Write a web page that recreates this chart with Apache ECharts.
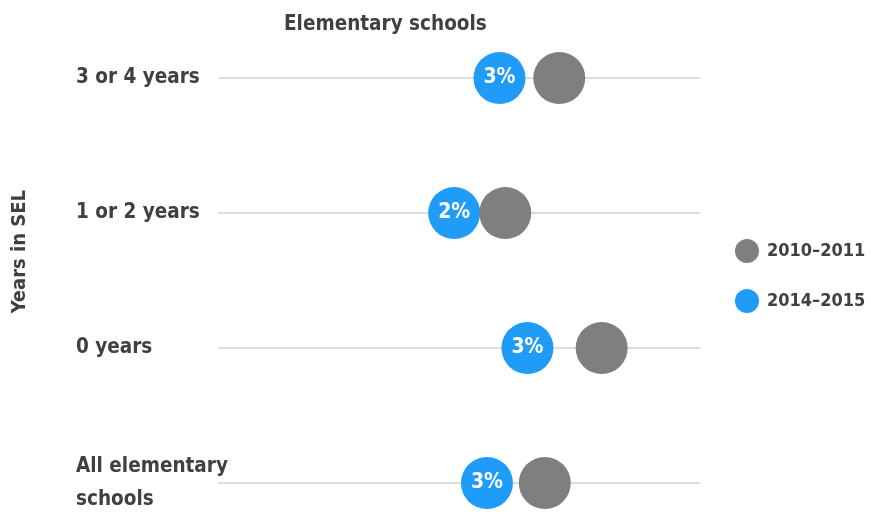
<!DOCTYPE html>
<html>
<head>
<meta charset="utf-8">
<script src="https://cdn.jsdelivr.net/npm/echarts@6/dist/echarts.min.js"></script>
<style>
  html, body { margin: 0; padding: 0; background: #fff; }
  #chart { width: 871px; height: 516px; }
</style>
</head>
<body>
<div id="chart"></div>
<script>
// Suspension rates by years in SEL, elementary schools (percent)
const categories = ['3 or 4 years', '1 or 2 years', '0 years', 'All elementary\nschools'];
const seriesNames = ['2010–2011', '2014–2015'];
const rate2010 = [3.54, 2.98, 3.98, 3.39];
const rate2014 = [2.92, 2.45, 3.21, 2.79];

const FONT = '"DejaVu Sans Condensed", "Open Sans", sans-serif';
const TEXT = '#404040';
const GREY = '#7f7f7f';
const BLUE = '#1f9cf7';

const toPoints = vals => vals.map((v, i) => [v, categories[i]]);

const chart = echarts.init(document.getElementById('chart'));
chart.setOption({
  animation: false,
  textStyle: { fontFamily: FONT },
  title: {
    text: 'Elementary schools',
    left: 279,
    top: 9,
    textStyle: { fontFamily: FONT, fontSize: 20.5, fontWeight: 'bold', color: TEXT }
  },
  legend: {
    orient: 'vertical',
    left: 730,
    top: 234,
    itemGap: 26,
    itemWidth: 24,
    itemHeight: 24,
    icon: 'circle',
    data: seriesNames,
    textStyle: { fontFamily: FONT, fontSize: 18, fontWeight: 'bold', color: TEXT, padding: [0, 0, 0, 3] }
  },
  graphic: [{
    type: 'text',
    left: 10,
    top: 190,
    rotation: Math.PI / 2,
    style: { text: 'Years in SEL', font: 'bold 20px ' + FONT, fill: TEXT }
  }],
  grid: { left: 218, right: 171, top: 78, bottom: 32 },
  xAxis: { type: 'value', min: 0, max: 5, show: false },
  yAxis: {
    type: 'category',
    data: categories,
    inverse: true,
    boundaryGap: false,
    axisLine: { show: false },
    axisTick: { show: false },
    splitLine: { show: true, lineStyle: { color: '#dddddd', width: 2 } },
    axisLabel: {
      align: 'left',
      margin: 142,
      fontFamily: FONT,
      fontSize: 20.5,
      fontWeight: 'bold',
      lineHeight: 33,
      color: TEXT
    }
  },
  series: [
    {
      name: seriesNames[0],
      type: 'scatter',
      symbolSize: 52,
      z: 3,
      itemStyle: { color: GREY, opacity: 1 },
      data: toPoints(rate2010)
    },
    {
      name: seriesNames[1],
      type: 'scatter',
      symbolSize: 52,
      z: 2,
      itemStyle: { color: BLUE, opacity: 1 },
      label: {
        show: true,
        position: 'inside',
        formatter: p => Math.round(p.value[0]) + '%',
        fontFamily: FONT,
        fontSize: 21,
        fontWeight: 'bold',
        color: '#ffffff'
      },
      data: toPoints(rate2014)
    }
  ]
});
</script>
</body>
</html>
